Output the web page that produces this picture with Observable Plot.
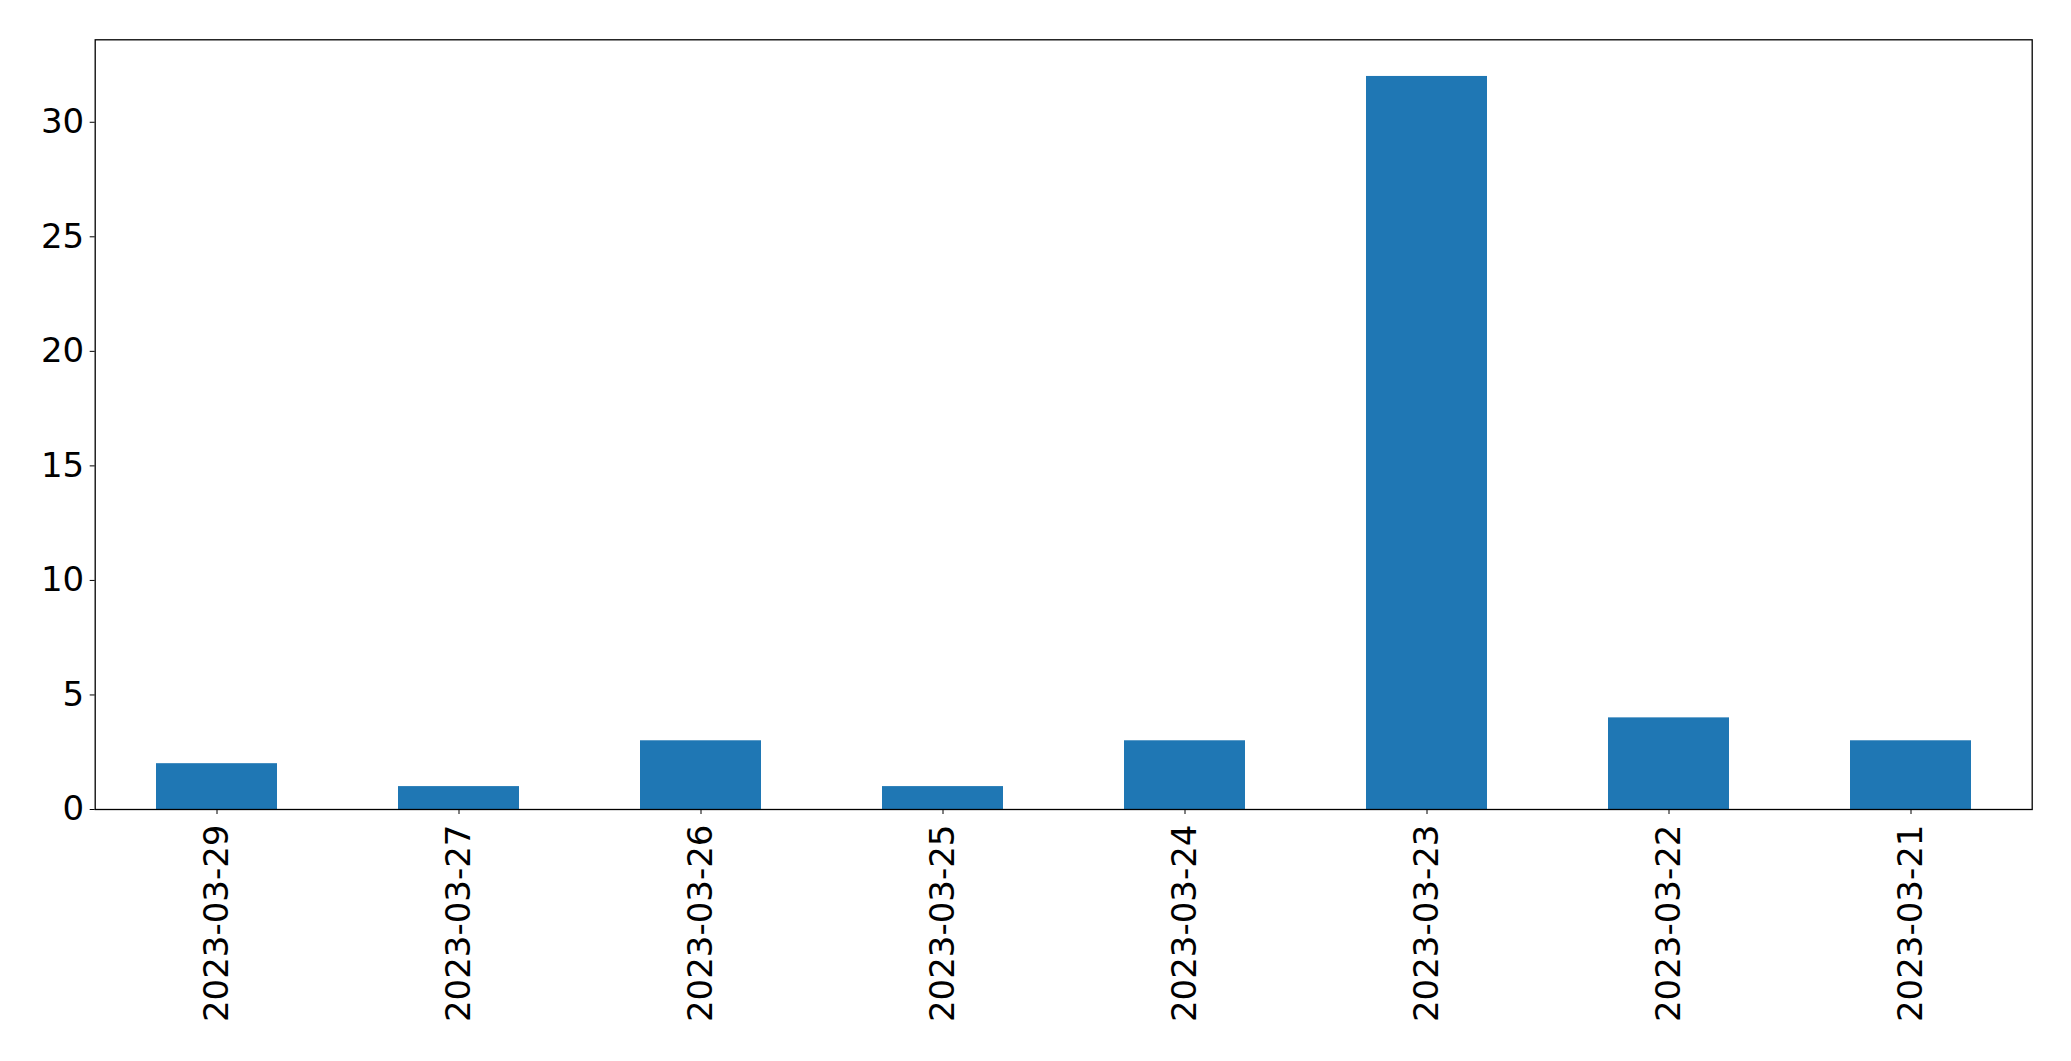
<!DOCTYPE html>
<html>
<head>
<meta charset="utf-8">
<script src="https://cdn.jsdelivr.net/npm/d3@7"></script>
<script src="https://cdn.jsdelivr.net/npm/@observablehq/plot@0.6"></script>
<style>
  html, body { margin: 0; padding: 0; background: #fff; overflow: hidden; }
  #chart svg { display: block; }
</style>
</head>
<body>
<div id="chart"></div>
<script>
const dates = ["2023-03-29", "2023-03-27", "2023-03-26", "2023-03-25", "2023-03-24", "2023-03-23", "2023-03-22", "2023-03-21"];
const counts = [2, 1, 3, 1, 3, 32, 4, 3];
const yTicks = [0, 5, 10, 15, 20, 25, 30];

const data = dates.map((d, i) => ({date: d, count: counts[i]}));

const chart = Plot.plot({
  width: 2071,
  height: 1061,
  marginLeft: 94.7,
  marginRight: 39.3,
  marginTop: 39.3,
  marginBottom: 252,
  style: {fontFamily: "'DejaVu Sans', sans-serif", background: "#fff", color: "#000"},
  x: {type: "band", domain: dates, paddingInner: 0.5, paddingOuter: 0.25},
  y: {domain: [0, 33.6]},
  marks: [
    Plot.barY(data, {x: "date", y: "count", fill: "#1f77b4"}),
    Plot.axisY({ticks: yTicks, tickSize: 5, tickPadding: 6, fontSize: 34, label: null, stroke: "#000"}),
    Plot.axisX({tickSize: 5, tickPadding: 10, tickRotate: -90, fontSize: 34, label: null, stroke: "#000"}),
    Plot.frame({stroke: "#000", strokeWidth: 1.3})
  ]
});
document.getElementById("chart").appendChild(chart);
</script>
</body>
</html>
